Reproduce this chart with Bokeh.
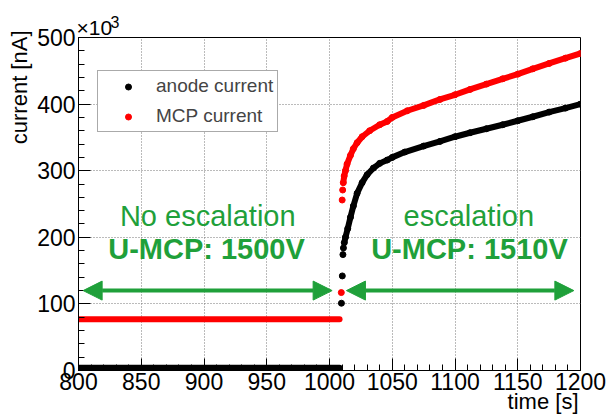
from bokeh.plotting import figure
from bokeh.models import (Range1d, SingleIntervalTicker, Label, Arrow, NormalHead,
                          Legend, LegendItem, Title)
from bokeh.embed import file_html
from bokeh.resources import INLINE

# ---- data: time [s], current [10^3 nA] ----
anode_pre_t = [800, 1008]
anode_pre_v = [4, 4]
mcp_pre_t = [800, 1008]
mcp_pre_v = [77, 77]

anode_jump_t = [1009.5, 1010.2, 1010.7, 1011.1]
anode_jump_v = [101, 142, 174, 184]
mcp_jump_t = [1009.4, 1010.1, 1010.5]
mcp_jump_v = [117, 256, 271]

anode_t = [1011.8, 1012.7, 1014.5, 1016.7, 1019, 1022, 1026, 1030, 1035, 1040, 1046, 1050,
           1060, 1075, 1088, 1100, 1112, 1125, 1138, 1150, 1162, 1175, 1188, 1200]
anode_v = [192, 200, 213, 230, 247, 266, 282, 294, 304, 311, 316, 320,
           328, 337, 344, 351, 357, 363, 369, 375, 381, 388, 394, 400]
mcp_t = [1011, 1011.7, 1012.7, 1014, 1016.7, 1019, 1022, 1026, 1032, 1040, 1046, 1050,
         1062, 1075, 1088, 1100, 1112, 1125, 1138, 1150, 1162, 1175, 1188, 1200]
mcp_v = [282, 292, 300, 310, 323, 333, 342, 351, 360, 369, 374, 380,
         390, 398, 407, 414, 422, 430, 438, 445, 453, 461, 469, 476]

FONT = "Liberation Sans"
GREEN = "#1fa03a"
RED = "#ff0000"
BLACK = "#000000"

p = figure(width=606, height=420, output_backend="svg", toolbar_location=None,
           x_range=Range1d(800, 1200), y_range=Range1d(0, 500),
           min_border_left=78, min_border_right=26, min_border_top=37, min_border_bottom=50)
p.background_fill_color = "white"
p.border_fill_color = "white"
p.outline_line_color = "#000000"
p.outline_line_width = 1

# axes
p.xaxis.ticker = SingleIntervalTicker(interval=50, num_minor_ticks=5)
p.yaxis.ticker = SingleIntervalTicker(interval=100, num_minor_ticks=5)
for ax in (p.xaxis, p.yaxis):
    ax.major_tick_in = 12
    ax.major_tick_out = 0
    ax.minor_tick_in = 6
    ax.minor_tick_out = 0
    ax.axis_line_color = "#000000"
    ax.major_tick_line_color = "#000000"
    ax.minor_tick_line_color = "#000000"
    ax.major_label_text_font = FONT
    ax.major_label_text_font_size = "23px"
    ax.major_label_text_color = "#000000"
p.xaxis.major_label_standoff = 2
p.yaxis.major_label_standoff = 3

for g in (p.xgrid, p.ygrid):
    g.grid_line_color = "#777777"
    g.grid_line_dash = "1 2"
    g.grid_line_width = 1

# data marks
p.line(anode_pre_t, anode_pre_v, line_color=BLACK, line_width=6, line_cap="round")
p.line(mcp_pre_t, mcp_pre_v, line_color=RED, line_width=6, line_cap="round")
p.line(anode_t, anode_v, line_color=BLACK, line_width=6, line_cap="round", line_join="round")
p.line(mcp_t, mcp_v, line_color=RED, line_width=6, line_cap="round", line_join="round")
r_anode = p.scatter(anode_jump_t, anode_jump_v, size=6, color=BLACK)
r_mcp = p.scatter(mcp_jump_t, mcp_jump_v, size=6, color=RED)
p.scatter(anode_t, anode_v, size=6, color=BLACK)
p.scatter(mcp_t, mcp_v, size=6, color=RED)

# legend
legend = Legend(items=[LegendItem(label="anode current", renderers=[r_anode]),
                       LegendItem(label="MCP current", renderers=[r_mcp])],
                location=(19, 238), orientation="vertical",
                padding=4, spacing=8, glyph_height=15, glyph_width=52,
                label_height=20, label_standoff=2,
                label_text_font=FONT, label_text_font_size="19px",
                border_line_color="#555555", border_line_width=1,
                background_fill_color="white", background_fill_alpha=1.0,
                margin=0)
p.add_layout(legend, "center")

# axis titles (ROOT style: right-aligned) and exponent
p.add_layout(Title(text="\u00d710", align="left", vertical_align="top",
                   text_font=FONT, text_font_size="21px", text_font_style="normal",
                   text_color=BLACK, standoff=-6, offset=-2), "above")
p.add_layout(Title(text="3", align="left", vertical_align="bottom",
                   text_font=FONT, text_font_size="16px", text_font_style="normal",
                   text_color=BLACK, standoff=-19, offset=32), "above")
p.add_layout(Title(text="current [nA]", align="right", vertical_align="bottom",
                   text_font=FONT, text_font_size="22px", text_font_style="normal",
                   text_color=BLACK, standoff=6, offset=-7), "left")
p.add_layout(Title(text="time [s]", align="right", vertical_align="bottom",
                   text_font=FONT, text_font_size="22px", text_font_style="normal",
                   text_color=BLACK, standoff=-12, offset=2), "below")

# in-plot texts
def lab(x, y, text, size, **kw):
    p.add_layout(Label(x=x, y=y, text=text, text_font=FONT, text_font_size=size, **kw))

lab(903, 232, "No escalation", "29px", text_align="center", text_baseline="middle", text_color=GREEN)
lab(902, 183, "U-MCP: 1500V", "29px", text_align="center", text_baseline="middle",
    text_color=GREEN, text_font_style="bold")
lab(1111, 232, "escalation", "29px", text_align="center", text_baseline="middle", text_color=GREEN)
lab(1111.5, 183, "U-MCP: 1510V", "29px", text_align="center", text_baseline="middle",
    text_color=GREEN, text_font_style="bold")

# arrows
for xs, xe in ((803.7, 1002.1), (1013.5, 1194.7)):
    p.add_layout(Arrow(x_start=xs, y_start=120, x_end=xe, y_end=120,
                       line_color=GREEN, line_width=4,
                       start=NormalHead(size=19, fill_color=GREEN, line_color=GREEN, line_width=1),
                       end=NormalHead(size=19, fill_color=GREEN, line_color=GREEN, line_width=1)))

open("out.html", "w").write(file_html(p, INLINE))
